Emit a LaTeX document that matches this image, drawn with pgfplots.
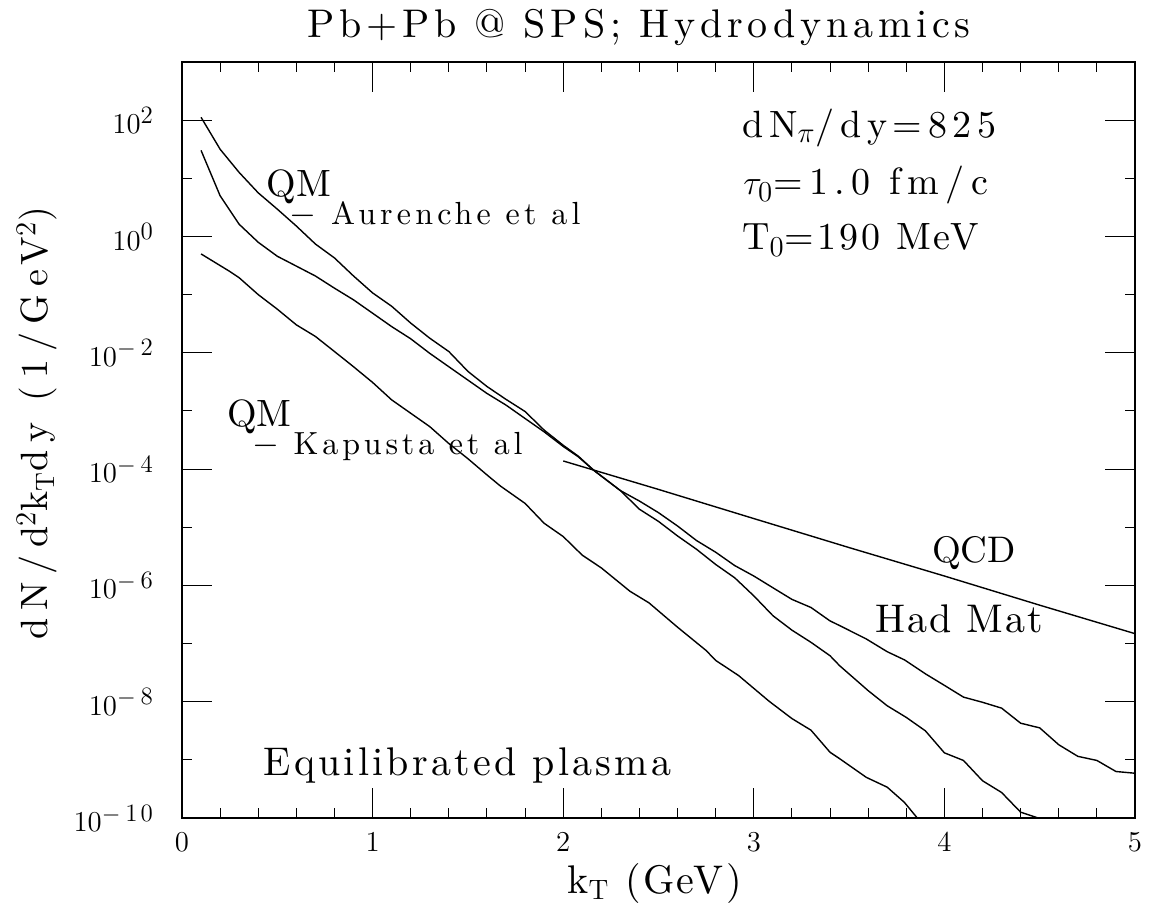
\documentclass[border=0pt]{standalone}
\usepackage{fontspec}
\usepackage{pgfplots}
\pgfplotsset{compat=1.18}
\newcommand{\tx}[3]{\fontsize{#1}{#1}\fontspec{lmroman10-regular.otf}[LetterSpace=#2]#3}
\newcommand{\ex}[1]{\mbox{\fontsize{12.5}{12.5}\selectfont #1}}
\begin{document}
\begin{tikzpicture}
\begin{axis}[
 scale only axis, width=476.5pt, height=378pt,
 ymode=log, xmin=0, xmax=5, ymin=1e-10, ymax=1e3,
 xtick={0,1,2,3,4,5}, minor x tick num=4,
 ytick={1e-10,1e-8,1e-6,1e-4,1e-2,1,1e2},
 yticklabels={$10^{\ex{$-$\kern2.5pt1\kern1.5pt0}}$,
   $10^{\ex{$-$\kern2.5pt8}}$,
   $10^{\ex{$-$\kern2.5pt6}}$,
   $10^{\ex{$-$\kern2.5pt4}}$,
   $10^{\ex{$-$\kern2.5pt2}}$,
   $10^{\ex{0}}$,
   $10^{\ex{2}}$},
 minor ytick={1e-9,1e-7,1e-5,1e-3,1e-1,1e1},
 tick align=inside,
 major tick length=15pt, minor tick length=5pt,
 every tick/.style={black, line width=0.5pt},
 axis line style={line width=0.8pt},
 tick label style={font=\fontsize{14.5}{14.5}\selectfont},
 xticklabel style={yshift=-4pt},
 yticklabel style={xshift=-10.5pt},
]
% QM Aurenche (steeper branch)
\addplot[black, line width=0.7pt, mark=none] table {
x y
0.1 112
0.2 31.6
0.3 12.6
0.4 5.62
0.5 2.95
0.6 1.51
0.7 0.741
0.8 0.427
0.9 0.209
1.0 0.107
1.1 0.0631
1.2 0.0324
1.3 0.0178
1.4 0.0105
1.5 4.79e-3
1.6 2.63e-3
1.7 1.58e-3
1.8 9.77e-4
1.9 4.68e-4
2.0 2.57e-4
2.08 1.66e-4
2.16 9.55e-5
2.30 4.27e-5
2.40 2.04e-5
2.50 1.26e-5
2.60 7.08e-6
2.70 4.17e-6
2.80 2.29e-6
2.90 1.35e-6
3.00 6.61e-7
3.10 3.02e-7
3.20 1.70e-7
3.30 1.05e-7
3.40 6.17e-8
3.45 4.17e-8
3.60 1.55e-8
3.70 8.51e-9
3.80 5.37e-9
3.90 3.16e-9
4.00 1.32e-9
4.10 9.77e-10
4.20 4.37e-10
4.30 2.75e-10
4.40 1.26e-10
4.50 9.8e-11
};
% Had Mat
\addplot[black, line width=0.7pt, mark=none] table {
x y
0.1 30.2
0.2 5.01
0.3 1.62
0.4 0.794
0.5 0.457
0.6 0.309
0.7 0.209
0.8 0.129
0.9 0.0813
1.0 0.0479
1.1 0.0282
1.2 0.0174
1.3 9.77e-3
1.4 5.75e-3
1.5 3.39e-3
1.6 2.0e-3
1.7 1.26e-3
1.8 7.41e-4
1.9 4.37e-4
2.0 2.45e-4
2.08 1.62e-4
2.16 9.55e-5
2.30 4.27e-5
2.40 2.82e-5
2.50 1.78e-5
2.60 1.05e-5
2.70 5.89e-6
2.80 3.72e-6
2.90 2.19e-6
3.00 1.45e-6
3.10 9.12e-7
3.20 5.75e-7
3.30 4.17e-7
3.40 2.45e-7
3.45 2.04e-7
3.59 1.20e-7
3.70 7.24e-8
3.79 5.25e-8
3.90 3.02e-8
4.00 1.91e-8
4.10 1.20e-8
4.20 9.77e-9
4.30 7.76e-9
4.40 4.27e-9
4.50 3.55e-9
4.60 1.82e-9
4.70 1.15e-9
4.80 9.77e-10
4.90 6.31e-10
5.00 5.89e-10
};
% QM Kapusta
\addplot[black, line width=0.7pt, mark=none] table {
x y
0.1 0.501
0.25 0.251
0.3 0.195
0.4 0.1
0.5 0.0562
0.6 0.0302
0.7 0.0191
0.8 0.0105
0.9 5.75e-3
1.0 3.09e-3
1.1 1.55e-3
1.2 9.12e-4
1.3 5.37e-4
1.4 2.75e-4
1.5 1.51e-4
1.6 7.94e-5
1.67 5.13e-5
1.8 2.57e-5
1.9 1.17e-5
2.0 6.92e-6
2.1 3.31e-6
2.2 2.0e-6
2.35 7.94e-7
2.45 5.01e-7
2.6 1.91e-7
2.75 7.59e-8
2.80 5.13e-8
2.92 2.82e-8
3.08 1.02e-8
3.20 5.13e-9
3.30 3.24e-9
3.40 1.35e-9
3.45 1.05e-9
3.59 5.01e-10
3.70 3.39e-10
3.79 1.86e-10
3.86 9.8e-11
};
% QCD
\addplot[black, line width=0.7pt, mark=none] table {
x y
2.0 1.38e-4
2.5 4.47e-5
3.0 1.41e-5
3.5 4.47e-6
4.0 1.45e-6
4.5 4.57e-7
5.0 1.48e-7
};
\coordinate (sw) at (rel axis cs:0,0);
\coordinate (ne) at (rel axis cs:1,1);
\coordinate (tt) at (rel axis cs:0.4795,1.033);
\coordinate (xl) at (rel axis cs:0.496,-0.0992);
\coordinate (yl) at (rel axis cs:-0.152,0.522);
\node[anchor=base west, inner sep=0] at (axis cs:0.441,4.94) {\tx{19}{0}{QM}};
\node[anchor=base west, inner sep=0] at (axis cs:0.561,1.63) {\tx{16}{13}{$-$ Aurenche et al}};
\node[anchor=base west, inner sep=0] at (axis cs:0.236,5.31e-4) {\tx{19}{0}{QM}};
\node[anchor=base west, inner sep=0] at (axis cs:0.367,1.75e-4) {\tx{16}{12}{$-$ Kapusta et al}};
\node[anchor=base west, inner sep=0] at (axis cs:3.933,2.48e-6) {\tx{18.5}{0}{QCD}};
\node[anchor=base west, inner sep=0] at (axis cs:3.636,1.55e-7) {\tx{20}{5}{Had Mat}};
\node[anchor=base west, inner sep=0] at (axis cs:0.427,5.37e-10) {\tx{20}{8}{Equilibrated plasma}};
\node[anchor=base west, inner sep=0] at (axis cs:2.937,49.7) {\tx{19}{15}{dN$_\pi$/dy=825}};
\node[anchor=base west, inner sep=0] at (axis cs:2.943,5.28) {\tx{19}{17}{$\tau_0$=1.0 fm/c}};
\node[anchor=base west, inner sep=0] at (axis cs:2.937,0.6) {\tx{19}{8}{T$_0$=190 MeV}};
\end{axis}
\node[anchor=base, inner sep=0] at (tt) {\tx{20}{12}{Pb+Pb @ SPS; Hydrodynamics}};
\node[anchor=base, inner sep=0] at (xl) {\tx{20}{6}{k$_\mathrm{T}$ (GeV)}};
\node[anchor=center, rotate=90, inner sep=0] at (yl) {\tx{19}{21}{dN/d$^2$k$_\mathrm{T}$dy (1/GeV$^2$)}};
\pgfresetboundingbox
\path ([shift={(-91pt,-49pt)}]sw) rectangle ([shift={(8pt,31pt)}]ne);
\end{tikzpicture}
\end{document}
